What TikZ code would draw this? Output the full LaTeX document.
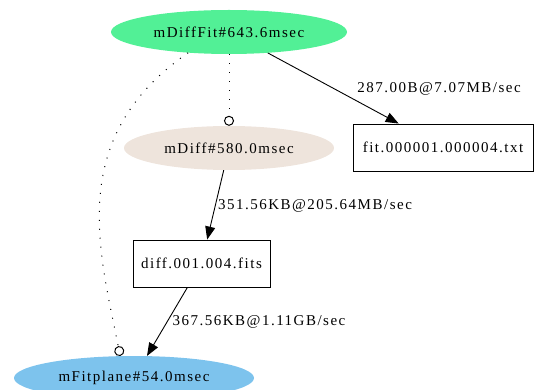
\documentclass[tikz,border=0pt]{standalone}
\usepackage{fontspec}
\setmainfont{Liberation Serif}[LetterSpace=10]
\usetikzlibrary{shapes.geometric,arrows.meta}
\definecolor{cgreen}{RGB}{82,240,150}
\definecolor{cbeige}{RGB}{238,228,220}
\definecolor{cblue}{RGB}{125,195,237}
\tikzset{
  x=1pt,y=-1pt,
  lbl/.style={font=\fontsize{15pt}{17pt}\selectfont},
  task/.style={ellipse,inner sep=0pt,minimum width=#1,minimum height=44pt,lbl},
  filebox/.style={draw,rectangle,inner sep=0pt,minimum height=47pt,minimum width=#1,lbl,line width=0.9pt},
  dataedge/.style={draw,line width=0.9pt,-{Triangle[length=13pt,width=10pt]}},
  ctrledge/.style={draw,line width=1pt,dash pattern=on 1pt off 8pt,-{Circle[open,length=10pt,width=10pt,line width=1pt]}},
  elabel/.style={lbl}
}
\begin{document}
\begin{tikzpicture}
\useasboundingbox (0,0) rectangle (535,390);
\node[task=236pt,fill=cgreen] (dfit) at (229,32) {mDiffFit\#643.6msec};
\node[task=210pt,fill=cbeige] (mdiff) at (229,148) {mDiff\#580.0msec};
\node[filebox=180pt] (fitbox) at (443,147.5) {fit.000001.000004.txt};
\node[filebox=137pt] (diffbox) at (201.5,263.5) {diff.001.004.fits};
\node[task=240pt,fill=cblue] (fp) at (134,378) {mFitplane\#54.0msec};

\draw[dataedge] (dfit) -- (fitbox);
\node[elabel] (l1) at (439,89) {287.00B@7.07MB/sec};
\draw[ctrledge] (dfit.south) -- (mdiff.north);
\draw[dataedge] (mdiff) -- (diffbox);
\node[elabel] (l2) at (315,206) {351.56KB@205.64MB/sec};
\draw[dataedge] (diffbox) -- (fp);
\node[elabel] (l3) at (259,322) {367.56KB@1.11GB/sec};
\draw[ctrledge] (dfit.207) .. controls (66,137) and (99,250) .. (fp.122);
\end{tikzpicture}
\end{document}
